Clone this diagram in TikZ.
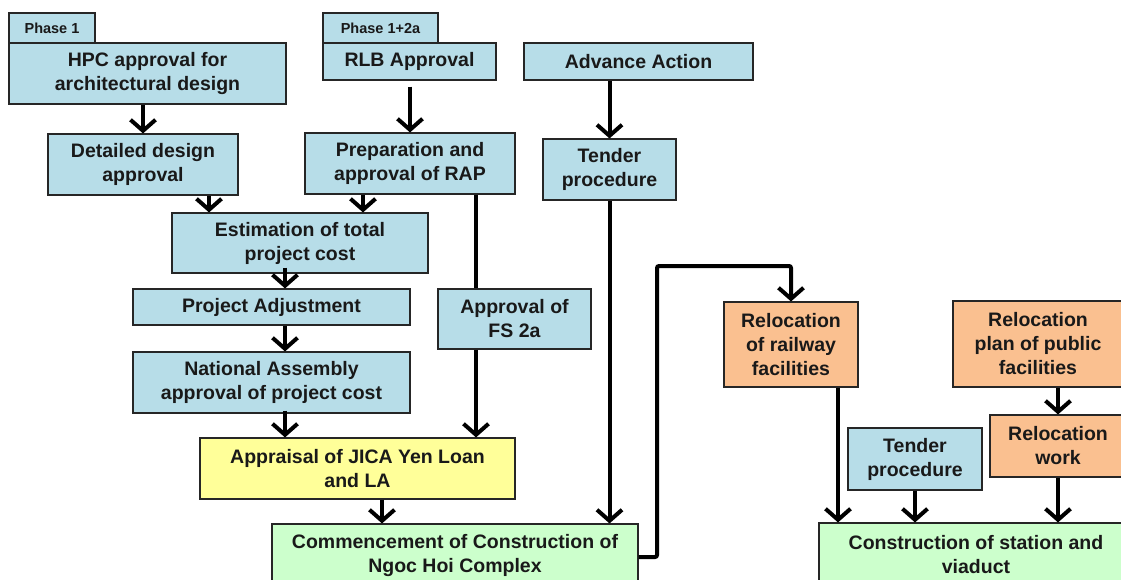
\documentclass[tikz,border=0pt]{standalone}
\usepackage{fontspec}
\setmainfont{Liberation Sans}
\usetikzlibrary{arrows.meta}
\definecolor{cblue}{RGB}{183,221,232}
\definecolor{corange}{RGB}{250,192,144}
\definecolor{cyellow}{RGB}{255,255,153}
\definecolor{cgreen}{RGB}{204,255,204}
\tikzset{
  box/.style={draw=black!85, line width=1.1pt, align=center, inner sep=0pt,
    font=\fontsize{19.5}{24}\selectfont\bfseries, text=black!90},
  bluebox/.style={box, fill=cblue},
  orangebox/.style={box, fill=corange},
  yellowbox/.style={box, fill=cyellow},
  greenbox/.style={box, fill=cgreen},
  tabbox/.style={box, fill=cblue, font=\fontsize{14.5}{16}\selectfont\bfseries},
  conn/.style={line width=4pt, black},
  arr/.style={conn, -{Straight Barb[length=11pt,width=25pt,line width=4pt]}},
}
\begin{document}
\begin{tikzpicture}[x=1pt,y=-1pt]
\path[use as bounding box, fill=white] (0,0) rectangle (1121,580);
\clip (0,0) rectangle (1121,580);
% top row
\node[tabbox, minimum width=86pt, minimum height=30pt] (tab1) at (52,28) {Phase 1};
\node[bluebox, minimum width=277pt, minimum height=61pt] (hpc) at (147.5,73.5) {HPC approval for\\architectural design};
\node[tabbox, minimum width=115pt, minimum height=30pt] (tab2) at (380.5,28) {Phase 1+2a};
\node[bluebox, minimum width=173pt, minimum height=37pt] (rlb) at (409.5,61.5) {RLB Approval};
\node[bluebox, minimum width=229pt, minimum height=37pt] (adv) at (638.5,61.5) {Advance Action};
% second row
\node[bluebox, minimum width=190pt, minimum height=61pt] (detailed) at (143,164.5) {Detailed design\\approval};
\node[bluebox, minimum width=210pt, minimum height=61pt] (prep) at (410,163.5) {Preparation and\\approval of RAP};
\node[bluebox, minimum width=133pt, minimum height=61pt] (tender1) at (609.5,169.5) {Tender\\procedure};
% middle
\node[bluebox, minimum width=256pt, minimum height=60pt] (est) at (300,243) {Estimation of total\\project cost};
\node[bluebox, minimum width=277pt, minimum height=36pt] (pa) at (271.5,307) {Project Adjustment};
\node[bluebox, minimum width=153pt, minimum height=60pt] (fs) at (514.5,319) {Approval of\\FS 2a};
\node[bluebox, minimum width=277pt, minimum height=61pt] (na) at (271.5,382.5) {National Assembly\\approval of project cost};
\node[yellowbox, minimum width=315pt, minimum height=61pt] (appr) at (357.5,468.5) {Appraisal of JICA Yen Loan\\and LA};
\node[greenbox, minimum width=366pt, minimum height=63pt] (comm) at (455,555.5) {Commencement of Construction of\\Ngoc Hoi Complex};
% right part
\node[orangebox, minimum width=134pt, minimum height=85pt] (relrail) at (791,344.5) {Relocation\\of railway\\facilities};
\node[orangebox, minimum width=170pt, minimum height=86pt] (plan) at (1038,344) {Relocation\\plan of public\\facilities};
\node[orangebox, minimum width=136pt, minimum height=62pt] (work) at (1058,446) {Relocation\\work};
\node[bluebox, minimum width=134pt, minimum height=62pt] (tender2) at (915,459) {Tender\\procedure};
\node[greenbox, minimum width=314pt, minimum height=64pt] (constr) at (976,555) {Construction of station and\\viaduct};
% connectors
\draw[arr] (detailed.north |- hpc.south) -- (detailed.north);
\draw[arr, shorten <=6pt] (prep.north |- rlb.south) -- (prep.north);
\draw[arr] (tender1.north |- adv.south) -- (tender1.north);
\draw[arr] ([xshift=66pt]detailed.south) -- ([xshift=66pt]detailed.south |- est.north);
\draw[arr] ([xshift=-47pt]prep.south) -- ([xshift=-47pt]prep.south |- est.north);
\draw[conn] ([xshift=66pt]prep.south) -- ([xshift=66pt]prep.south |- fs.north);
\draw[arr] ([xshift=-15pt,yshift=6pt]est.south) -- ([xshift=-15pt]est.south |- pa.north);
\draw[arr] ([xshift=13.5pt]pa.south) -- ([xshift=13.5pt]pa.south |- na.north);
\draw[arr] ([xshift=13.5pt,yshift=3pt]na.south) -- ([xshift=13.5pt]na.south |- appr.north);
\draw[arr] ([xshift=-38.5pt]fs.south) -- ([xshift=-38.5pt]fs.south |- appr.north);
\draw[arr] ([xshift=24.5pt]appr.south) -- ([xshift=24.5pt]appr.south |- comm.north);
\draw[arr] (tender1.south) -- (tender1.south |- comm.north);
\coordinate (elb) at (657,266);
\draw[arr, rounded corners=2pt] ([yshift=-1.5pt]comm.east) -| (elb) -| (relrail.north);
\draw[arr] ([xshift=47pt]relrail.south) -- ([xshift=47pt]relrail.south |- constr.north);
\draw[arr] (tender2.south) -- (tender2.south |- constr.north);
\draw[arr] (plan.south -| work.north) -- (work.north);
\draw[arr] (work.south) -- (work.south |- constr.north);
\end{tikzpicture}
\end{document}
